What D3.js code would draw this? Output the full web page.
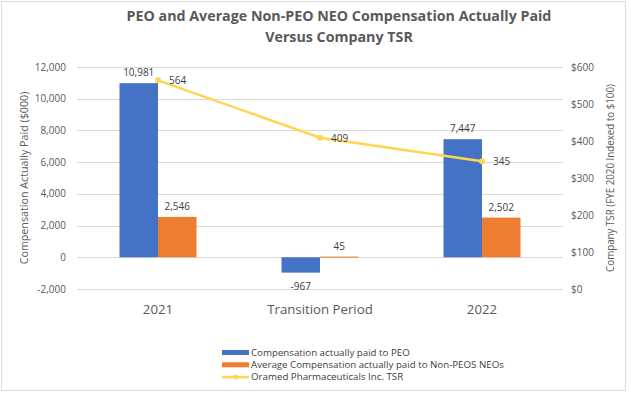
<!DOCTYPE html>
<html>
<head>
<meta charset="utf-8">
<title>PEO and Average Non-PEO NEO Compensation Actually Paid Versus Company TSR</title>
<script src="https://d3js.org/d3.v7.min.js"></script>
<style>
    body { margin: 0; background: #fff; }
    svg { display: block; font-family: 'Open Sans', sans-serif; }
    .grid line { stroke: #d9d9d9; stroke-width: 1px; }
    .tick-label { fill: #595959; font-size: 10px; }
    .axis-title { fill: #595959; font-size: 10.5px; }
    .cat-label { fill: #595959; font-size: 13.5px; }
    .data-label { fill: #404040; font-size: 10px; }
    .legend-text { fill: #404040; font-size: 9px; }
</style>
</head>
<body>
<script>
// chart data
var categories = ["2021", "Transition Period", "2022"];
var seriesNames = ["Compensation actually paid to PEO",
                   "Average Compensation actually paid to Non-PEOS NEOs"];
var peoValues = [10981, -967, 7447];
var neoValues = [2546, 45, 2502];
var tsrName = "Oramed Pharmaceuticals Inc. TSR";
var tsrValues = [564, 409, 345];
var leftTicks = [-2000, 0, 2000, 4000, 6000, 8000, 10000, 12000];
var rightTicks = [0, 100, 200, 300, 400, 500, 600];

var width = 631, height = 393;
var colors = ["#4472c4", "#ed7d31"];
var lineColor = "#ffd651";

// squeeze or stretch text so it takes the room the office font took
function fit(sel, k) {
    sel.each(function() {
        var len = this.getComputedTextLength();
        d3.select(this).attr("textLength", len * k).attr("lengthAdjust", "spacingAndGlyphs");
    });
}

var svg = d3.select("body").append("svg")
    .attr("width", width)
    .attr("height", height);

svg.append("rect")
    .attr("x", 1.5).attr("y", 1.5)
    .attr("width", 624).attr("height", 389)
    .attr("fill", "#fff")
    .attr("stroke", "#d9d9d9");

// title
var title = svg.append("text")
    .attr("text-anchor", "middle")
    .attr("fill", "#595959")
    .style("font-size", "15px")
    .style("font-weight", "bold");
title.append("tspan").attr("x", 339).attr("y", 21)
    .text("PEO and Average Non-PEO NEO Compensation Actually Paid");
title.append("tspan").attr("x", 339).attr("y", 42)
    .text("Versus Company TSR");

var plot = {left: 77, right: 563, top: 67, bottom: 289};

var y = d3.scaleLinear().domain([-2000, 12000]).range([plot.bottom, plot.top]);
var y2 = d3.scaleLinear().domain([0, 600]).range([plot.bottom, plot.top]);
var x0 = d3.scaleBand().domain(categories).range([plot.left, plot.right]);
var x1 = d3.scaleBand().domain(seriesNames).range([0, 77]);
var groupOffset = (x0.bandwidth() - 77) / 2;

// gridlines
svg.append("g").attr("class", "grid")
    .selectAll("line").data(leftTicks).enter().append("line")
    .attr("x1", plot.left).attr("x2", plot.right)
    .attr("y1", function(d) { return Math.round(y(d)) + 0.5; })
    .attr("y2", function(d) { return Math.round(y(d)) + 0.5; });

// left axis labels
svg.append("g").selectAll("text").data(leftTicks).enter().append("text")
    .attr("class", "tick-label")
    .attr("x", 66)
    .attr("y", function(d) { return y(d) + 3.5; })
    .attr("text-anchor", "end")
    .text(function(d) { return d3.format(",")(d).replace("−", "-"); });

// right axis labels
svg.append("g").selectAll("text").data(rightTicks).enter().append("text")
    .attr("class", "tick-label")
    .attr("x", 571)
    .attr("y", function(d) { return y2(d) + 3.5; })
    .text(function(d) { return "$" + d; });

// axis titles
svg.append("text").attr("class", "axis-title")
    .attr("transform", "translate(28,178) rotate(-90)")
    .attr("text-anchor", "middle")
    .text("Compensation Actually Paid ($000)")
    .call(fit, 1.02);
svg.append("text").attr("class", "axis-title")
    .attr("transform", "translate(614,178) rotate(-90)")
    .attr("text-anchor", "middle")
    .text("Company TSR (FYE 2020 Indexed to $100)")
    .call(fit, 0.93);

// bars
var barData = [];
categories.forEach(function(c, i) {
    barData.push({cat: c, s: seriesNames[0], v: peoValues[i], k: 0});
    barData.push({cat: c, s: seriesNames[1], v: neoValues[i], k: 1});
});

svg.append("g").selectAll("rect").data(barData).enter().append("rect")
    .attr("x", function(d) { return x0(d.cat) + groupOffset + x1(d.s); })
    .attr("y", function(d) { return y(Math.max(0, d.v)); })
    .attr("width", x1.bandwidth())
    .attr("height", function(d) { return Math.max(1, Math.abs(y(d.v) - y(0))); })
    .attr("fill", function(d) { return colors[d.k]; });

svg.append("g").selectAll("text").data(barData).enter().append("text")
    .attr("class", "data-label")
    .attr("text-anchor", "middle")
    .attr("x", function(d) { return x0(d.cat) + groupOffset + x1(d.s) + x1.bandwidth() / 2; })
    .attr("y", function(d) { return d.v >= 0 ? y(d.v) - 7 : y(d.v) + 17; })
    .text(function(d) { return d3.format(",")(d.v).replace("−", "-"); });

// category labels
svg.append("g").selectAll("text").data(categories).enter().append("text")
    .attr("class", "cat-label")
    .attr("text-anchor", "middle")
    .attr("x", function(d) { return x0(d) + x0.bandwidth() / 2; })
    .attr("y", 314)
    .text(function(d) { return d; })
    .call(fit, 0.98);

// TSR line
var cx = function(d, i) { return x0(categories[i]) + x0.bandwidth() / 2; };
var line = d3.line()
    .x(function(d, i) { return cx(d, i); })
    .y(function(d) { return y2(d); });

svg.append("path").datum(tsrValues)
    .attr("d", line)
    .attr("fill", "none")
    .attr("stroke", lineColor)
    .attr("stroke-width", 2.5);

svg.append("g").selectAll("circle").data(tsrValues).enter().append("circle")
    .attr("cx", cx)
    .attr("cy", function(d) { return y2(d); })
    .attr("r", 3)
    .attr("fill", lineColor);

svg.append("g").selectAll("text").data(tsrValues).enter().append("text")
    .attr("class", "data-label")
    .attr("x", function(d, i) { return cx(d, i) + 11; })
    .attr("y", function(d) { return y2(d) + 4; })
    .text(function(d) { return d; });

// legend
var legendItems = [
    {name: seriesNames[0], type: "bar", color: colors[0]},
    {name: seriesNames[1], type: "bar", color: colors[1]},
    {name: tsrName, type: "line", color: lineColor}
];
var legend = svg.append("g").selectAll("g").data(legendItems).enter().append("g")
    .attr("transform", function(d, i) { return "translate(222," + (352.5 + i * 12.3) + ")"; });

legend.filter(function(d) { return d.type == "bar"; }).append("rect")
    .attr("x", 0).attr("y", -2.5)
    .attr("width", 27).attr("height", 5)
    .attr("fill", function(d) { return d.color; });
legend.filter(function(d) { return d.type == "line"; }).append("line")
    .attr("x1", 0).attr("x2", 27)
    .attr("stroke", function(d) { return d.color; })
    .attr("stroke-width", 2.5);
legend.filter(function(d) { return d.type == "line"; }).append("circle")
    .attr("cx", 13.5).attr("r", 2.5)
    .attr("fill", function(d) { return d.color; });

legend.append("text")
    .attr("class", "legend-text")
    .attr("x", 29)
    .attr("y", 3.2)
    .text(function(d) { return d.name; })
    .call(fit, 1.08);

fit(title.selectAll("tspan"), 0.95);
</script>
</body>
</html>
